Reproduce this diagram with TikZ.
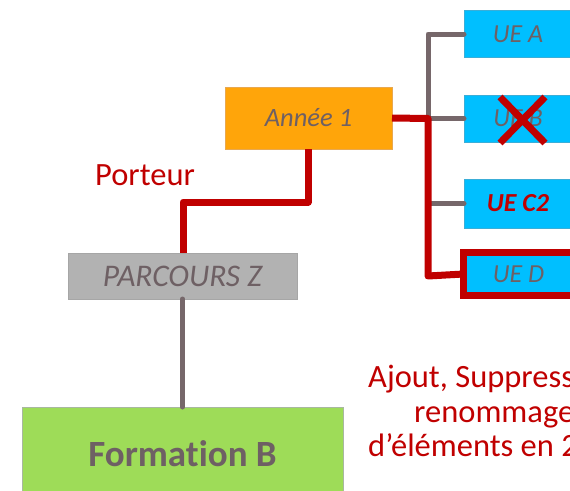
\documentclass[tikz,border=0pt]{standalone}
\usepackage{fontspec}
\setmainfont{Carlito}[Ligatures=CommonOff]
\definecolor{ueblue}{HTML}{00BFFF}
\definecolor{uedraw}{HTML}{3AAED8}
\definecolor{orangebox}{HTML}{FFA50A}
\definecolor{orangedraw}{HTML}{E8A850}
\definecolor{greybox}{HTML}{B2B2B2}
\definecolor{greydraw}{HTML}{A6A6A6}
\definecolor{greenbox}{HTML}{9EDC58}
\definecolor{greendraw}{HTML}{A8B8A0}
\definecolor{txtgrey}{HTML}{6E6064}
\definecolor{linegrey}{HTML}{76676A}
\definecolor{redc}{HTML}{C00000}
\begin{document}
\begin{tikzpicture}[x=1pt,y=-1pt,
  box/.style={rectangle, inner sep=0pt, outer sep=0pt, line width=0.8pt, text=txtgrey},
  uebox/.style={box, fill=ueblue, draw=uedraw, minimum width=108pt, minimum height=47pt,
     font=\fontsize{26}{30}\selectfont\itshape},
  greyline/.style={draw=linegrey, line width=5pt, line join=round, line cap=round},
  redline/.style={draw=redc, line width=7pt, line join=round},
  redtxt/.style={text=redc, inner sep=0pt, font=\fontsize{32.5}{36}\selectfont}
]
\useasboundingbox (0,0) rectangle (570,490);
\clip (0,0) rectangle (570,490);

% nodes
\node[box, fill=orangebox, draw=orangedraw, minimum width=167pt, minimum height=62pt,
      font=\fontsize{26.5}{30}\selectfont\itshape] (annee) at (308.5,118) {Année 1};
\node[box, fill=greybox, draw=greydraw, minimum width=229pt, minimum height=46pt,
      font=\fontsize{31.5}{34}\selectfont\itshape] (parcours) at (182.5,276) {PARCOURS Z};
\node[box, fill=greenbox, draw=greendraw, minimum width=321pt, minimum height=94pt,
      font=\fontsize{37}{42}\selectfont\bfseries] (formation) at (182.5,454) {Formation B};

\node[uebox] (uea) at (518,34) {UE A};
\node[uebox] (ueb) at (518,118.5) {UE B};
\node[uebox, minimum height=49pt, text=redc, font=\fontsize{26}{30}\selectfont\bfseries\itshape] (uec) at (518,203.5) {UE C2};
\node[box, fill=ueblue, draw=redc, line width=7pt, minimum width=110pt, minimum height=43pt,
      font=\fontsize{26}{30}\selectfont\itshape] (ued) at (518.5,274) {UE D};

% coordinates of the bus
\coordinate (bustop) at (428,34);
\coordinate (busmid) at (428,118.5);
\coordinate (busc) at (428,203.5);
\coordinate (busbot) at (428,276);
\coordinate (stepr) at (308,202);
\coordinate (stepl) at (183,202);

% grey connectors
\draw[greyline] (uea.west) -- (bustop) -- (busmid) -- (ueb.west);
\draw[greyline] (busc) -- (uec.west);
\draw[greyline] (parcours.south) -- (formation.north);

% red connectors
\draw[redline] (annee.east) -- (busmid) -- (busbot) -- (ued.west);
\draw[redline] (annee.south -| stepr) -- (stepr) -- (stepl) -- (parcours.north -| stepl);

% cross on UE B
\coordinate (xa) at (500,97);
\coordinate (xb) at (545,143);
\coordinate (xc) at (545,97);
\coordinate (xd) at (500,143);
\draw[draw=redc, line width=7pt] (xa) -- (xb);
\draw[draw=redc, line width=7pt] (xc) -- (xd);

% texts
\node[redtxt] (porteur) at (145,175) {Porteur};
\node[redtxt, anchor=base west] (t1) at (368,387) {Ajout, Suppress};
\node[redtxt, anchor=base west] (t2) at (414,422) {renommage};
\node[redtxt, anchor=base west] (t3) at (368,456) {d’éléments en 2};
\end{tikzpicture}
\end{document}
